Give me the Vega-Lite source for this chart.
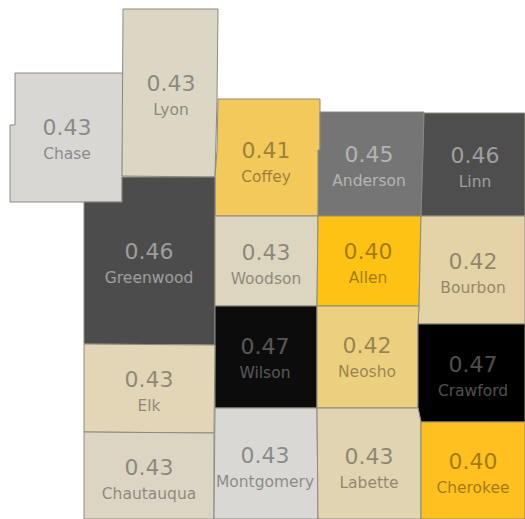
{"$schema":"https://vega.github.io/schema/vega-lite/v6.json","width":525,"height":519,"padding":0,"autosize":{"type":"none"},"background":"white","config":{"view":{"stroke":null}},
"projection":{"type":"identity","reflectY":true,"scale":250,"translate":[24250,9750]},
"data":{"values":[
{"type":"Feature","properties":{"county":"Chase","value":0.433,"lon":-96.732,"lat":38.44},"geometry":{"type":"Polygon","coordinates":[[[-96.94,38.708],[-96.508,38.708],[-96.512,38.192],[-96.96,38.192],[-96.96,38.5],[-96.94,38.5],[-96.94,38.708]]]}},
{"type":"Feature","properties":{"county":"Lyon","value":0.431,"lon":-96.316,"lat":38.618},"geometry":{"type":"Polygon","coordinates":[[[-96.508,38.964],[-96.128,38.964],[-96.132,38.6],[-96.14,38.292],[-96.512,38.296],[-96.508,38.964]]]}},
{"type":"Feature","properties":{"county":"Coffey","value":0.41,"lon":-95.936,"lat":38.348},"geometry":{"type":"Polygon","coordinates":[[[-96.128,38.604],[-95.72,38.604],[-95.72,38.4],[-95.728,38.136],[-96.14,38.136],[-96.14,38.292],[-96.132,38.4],[-96.128,38.604]]]}},
{"type":"Feature","properties":{"county":"Anderson","value":0.45,"lon":-95.524,"lat":38.334},"geometry":{"type":"Polygon","coordinates":[[[-95.72,38.552],[-95.304,38.552],[-95.304,38.392],[-95.316,38.136],[-95.728,38.136],[-95.728,38.4],[-95.72,38.4],[-95.72,38.552]]]}},
{"type":"Feature","properties":{"county":"Linn","value":0.46,"lon":-95.1,"lat":38.33},"geometry":{"type":"Polygon","coordinates":[[[-95.304,38.548],[-94.9,38.548],[-94.9,38.136],[-95.316,38.136],[-95.308,38.392],[-95.304,38.548]]]}},
{"type":"Feature","properties":{"county":"Greenwood","value":0.461,"lon":-96.404,"lat":37.946},"geometry":{"type":"Polygon","coordinates":[[[-96.664,38.192],[-96.512,38.192],[-96.512,38.292],[-96.14,38.292],[-96.14,37.62],[-96.664,37.624],[-96.664,38.192]]]}},
{"type":"Feature","properties":{"county":"Woodson","value":0.43,"lon":-95.936,"lat":37.942},"geometry":{"type":"Polygon","coordinates":[[[-96.14,38.136],[-95.728,38.136],[-95.732,37.776],[-96.14,37.776],[-96.14,38.136]]]}},
{"type":"Feature","properties":{"county":"Allen","value":0.4,"lon":-95.528,"lat":37.946},"geometry":{"type":"Polygon","coordinates":[[[-95.728,38.136],[-95.316,38.136],[-95.324,37.776],[-95.732,37.776],[-95.728,38.136]]]}},
{"type":"Feature","properties":{"county":"Bourbon","value":0.424,"lon":-95.108,"lat":37.906},"geometry":{"type":"Polygon","coordinates":[[[-95.316,38.136],[-94.9,38.136],[-94.9,37.704],[-95.328,37.704],[-95.324,37.776],[-95.316,38.136]]]}},
{"type":"Feature","properties":{"county":"Wilson","value":0.469,"lon":-95.94,"lat":37.566},"geometry":{"type":"Polygon","coordinates":[[[-96.14,37.776],[-95.732,37.776],[-95.732,37.368],[-96.14,37.368],[-96.14,37.776]]]}},
{"type":"Feature","properties":{"county":"Neosho","value":0.42,"lon":-95.532,"lat":37.568},"geometry":{"type":"Polygon","coordinates":[[[-95.732,37.776],[-95.324,37.776],[-95.328,37.704],[-95.328,37.368],[-95.732,37.368],[-95.732,37.776]]]}},
{"type":"Feature","properties":{"county":"Crawford","value":0.472,"lon":-95.108,"lat":37.494},"geometry":{"type":"Polygon","coordinates":[[[-95.328,37.704],[-94.9,37.704],[-94.9,37.312],[-95.316,37.312],[-95.328,37.368],[-95.328,37.704]]]}},
{"type":"Feature","properties":{"county":"Elk","value":0.428,"lon":-96.404,"lat":37.432},"geometry":{"type":"Polygon","coordinates":[[[-96.664,37.624],[-96.14,37.62],[-96.144,37.268],[-96.664,37.272],[-96.664,37.624]]]}},
{"type":"Feature","properties":{"county":"Chautauqua","value":0.432,"lon":-96.404,"lat":37.08},"geometry":{"type":"Polygon","coordinates":[[[-96.664,37.272],[-96.144,37.268],[-96.144,36.924],[-96.664,36.924],[-96.664,37.272]]]}},
{"type":"Feature","properties":{"county":"Montgomery","value":0.434,"lon":-95.94,"lat":37.128},"geometry":{"type":"Polygon","coordinates":[[[-96.14,37.368],[-95.732,37.368],[-95.728,36.924],[-96.144,36.924],[-96.14,37.368]]]}},
{"type":"Feature","properties":{"county":"Labette","value":0.427,"lon":-95.524,"lat":37.126},"geometry":{"type":"Polygon","coordinates":[[[-95.732,37.368],[-95.328,37.368],[-95.316,37.312],[-95.316,36.924],[-95.728,36.924],[-95.732,37.368]]]}},
{"type":"Feature","properties":{"county":"Cherokee","value":0.402,"lon":-95.108,"lat":37.104},"geometry":{"type":"Polygon","coordinates":[[[-95.316,37.312],[-94.9,37.312],[-94.9,36.924],[-95.316,36.924],[-95.316,37.312]]]}}
]},
"layer":[
{"mark":{"type":"geoshape","stroke":"#8c8a7e","strokeWidth":1,"clip":true},
"encoding":{"color":{"field":"properties.value","type":"quantitative","legend":null,
"scale":{"domain":[0.4,0.402,0.41,0.42,0.424,0.427,0.428,0.43,0.431,0.432,0.433,0.434,0.45,0.46,0.461,0.469,0.472],
"range":["#fec214","#ffc020","#f4c95c","#ecd07f","#e3d3a6","#e0d4b2","#e2d6b6","#dcd5c0","#dcd6c5","#ddd5c4","#d8d7d4","#d9d8d5","#757575","#4e4e4e","#4c4c4c","#0c0c0c","#000000"]}}}},
{"mark":{"type":"text","font":"DejaVu Sans","fontSize":22,"dy":-12,"baseline":"middle","align":"center"},
"encoding":{"longitude":{"field":"properties.lon","type":"quantitative"},"latitude":{"field":"properties.lat","type":"quantitative"},
"text":{"field":"properties.value","type":"quantitative","format":".2f"},
"color":{"condition":{"test":"datum.properties.value>=0.445","value":"#ffffff"},"value":"#000000"},
"opacity":{"condition":[{"test":"datum.properties.value>=0.465","value":0.3},{"test":"datum.properties.value>=0.445","value":0.45}],"value":0.36}}},
{"mark":{"type":"text","font":"DejaVu Sans","fontSize":15.5,"dy":14,"baseline":"middle","align":"center"},
"encoding":{"longitude":{"field":"properties.lon","type":"quantitative"},"latitude":{"field":"properties.lat","type":"quantitative"},
"text":{"field":"properties.county","type":"nominal"},
"color":{"condition":{"test":"datum.properties.value>=0.445","value":"#ffffff"},"value":"#000000"},
"opacity":{"condition":[{"test":"datum.properties.value>=0.465","value":0.3},{"test":"datum.properties.value>=0.445","value":0.45}],"value":0.36}}}
]}
